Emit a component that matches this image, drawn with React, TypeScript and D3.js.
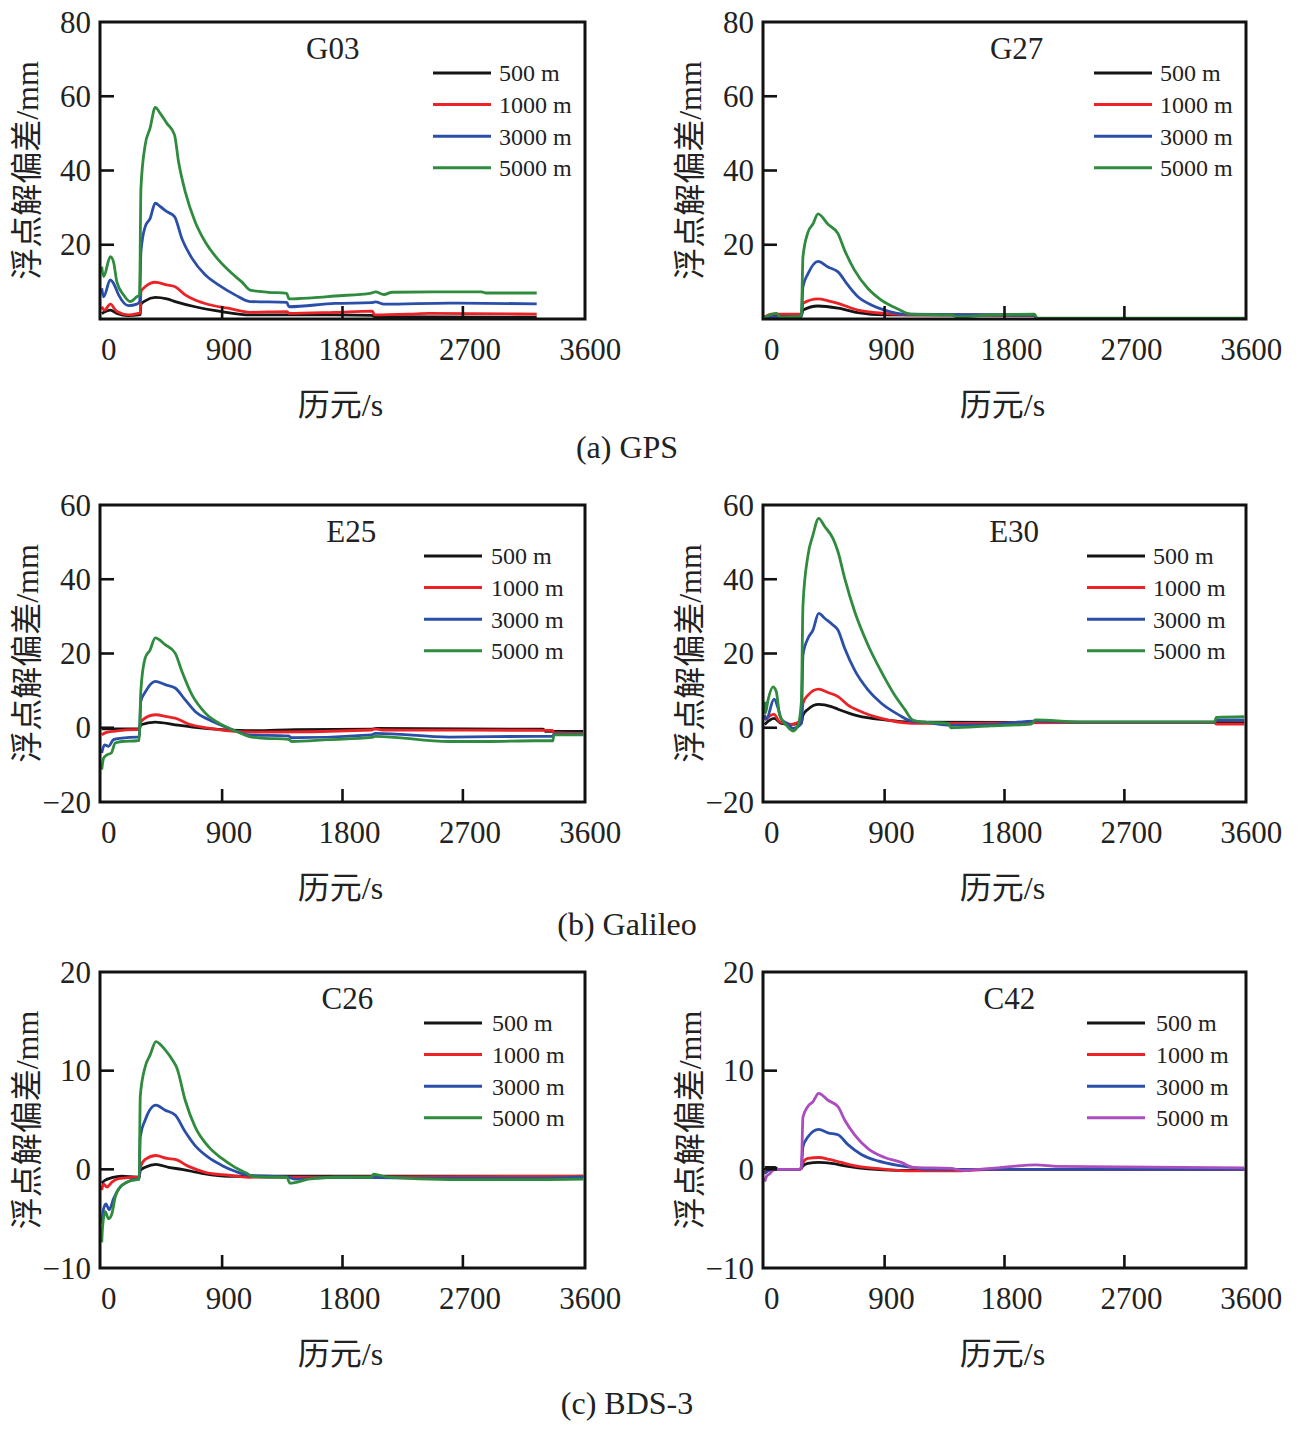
import * as d3 from "d3";

type Pt = [number, number];

const TIME_TICKS = [0, 900, 1800, 2700, 3600];
const RANGE_LABELS = ["500 m", "1000 m", "3000 m", "5000 m"];
const LINE_COLORS = ["#141414", "#ec2227", "#2b4ea8", "#2f8b3d"];
const C42_COLORS = ["#141414", "#ec2227", "#2b4ea8", "#ab4cbf"];

// G03
const g03_500: Pt[] = [[0, 1.5], [65, 2.4], [113, 1.5], [200, 0.9], [275, 1.1], [288, 1.2], [293, 4.0], [325, 4.9], [400, 5.8], [487, 5.4], [549, 4.7], [698, 3.3], [898, 2.0], [1109, 1.1], [1744, 1.1], [2020, 1.0], [2040, 0.6], [3252, 0.5]];
const g03_1000: Pt[] = [[0, 3.3], [20, 2.4], [64, 4.0], [113, 2.0], [200, 1.1], [275, 1.5], [288, 1.6], [293, 7.4], [325, 8.7], [400, 9.9], [487, 9.2], [549, 8.7], [624, 6.5], [698, 5.1], [798, 3.9], [947, 2.9], [1109, 1.8], [1383, 2.0], [1400, 1.5], [1744, 1.8], [2023, 2.1], [2040, 1.1], [2300, 1.3], [2450, 1.5], [3252, 1.3]];
const g03_3000: Pt[] = [[0, 8.3], [14, 6.0], [64, 10.5], [88, 9.6], [126, 6.5], [200, 3.6], [263, 4.0], [283, 4.7], [293, 18.1], [325, 24.9], [362, 27.1], [400, 31.2], [437, 30.3], [487, 28.9], [544, 27.6], [599, 21.7], [674, 16.4], [773, 11.9], [873, 9.2], [997, 6.5], [1109, 4.7], [1383, 4.5], [1400, 3.3], [1744, 4.2], [2015, 4.4], [2047, 4.6], [2110, 4.0], [2600, 4.3], [3252, 4.1]];
const g03_5000: Pt[] = [[0, 14.1], [14, 11.4], [64, 16.8], [88, 15.4], [113, 10], [163, 6.5], [213, 4.7], [263, 6.0], [283, 6.5], [293, 35.2], [325, 46.9], [362, 51.5], [400, 57], [437, 55.4], [487, 52.7], [544, 49.6], [574, 42.4], [624, 34.3], [698, 26.2], [773, 20.8], [873, 15.9], [972, 12.3], [1047, 10], [1109, 7.8], [1246, 7.2], [1383, 6.9], [1400, 5.4], [1570, 5.7], [1744, 6.2], [2015, 7], [2047, 7.3], [2110, 6.6], [2170, 7.2], [2476, 7.3], [2842, 7.3], [2872, 7.0], [3252, 7.0]];

// G27
const g27_500: Pt[] = [[0, 0.7], [262, 0.7], [275, 0.8], [287, 2.4], [400, 3.5], [550, 2.9], [700, 1.7], [900, 1.1], [2025, 1.0], [2040, 0.1], [3600, 0.1]];
const g27_1000: Pt[] = [[0, 0.5], [50, 1.3], [262, 1.3], [275, 1.4], [287, 4.2], [400, 5.4], [475, 4.9], [550, 4.2], [700, 2.4], [900, 1.5], [1100, 1.1], [2025, 1.1], [2040, 0.1], [3600, 0.1]];
const g27_3000: Pt[] = [[0, 0.5], [262, 0.6], [275, 0.7], [287, 8.7], [325, 12.2], [400, 15.5], [475, 14], [550, 12.7], [625, 9.1], [700, 6], [800, 3.8], [900, 2.4], [1050, 1.3], [2025, 1.1], [2040, 0.1], [3600, 0.1]];
const g27_5000: Pt[] = [[0, 0.5], [87, 1.5], [120, 0.5], [262, 0.6], [275, 1.0], [287, 16.7], [325, 23.4], [362, 25.6], [400, 28.3], [475, 25.5], [550, 23], [600, 18.5], [675, 13.1], [775, 8.2], [875, 5.1], [1000, 2.7], [1100, 1.3], [1397, 1.1], [1450, 0.6], [1700, 1.1], [2025, 1.3], [2045, 0.2], [3600, 0.2]];

// E25
const e25_500: Pt[] = [[0, -0.3], [280, -0.3], [292, 0.8], [400, 1.5], [549, 0.8], [698, 0.1], [898, -0.5], [1146, -0.8], [1446, -0.5], [2018, -0.4], [2050, -0.2], [3300, -0.4], [3320, -1.0], [3600, -1.0]];
const e25_1000: Pt[] = [[0, -1.9], [30, -1.3], [101, -0.9], [263, -0.5], [280, -0.5], [292, 1.7], [400, 3.5], [499, 2.9], [549, 2.6], [649, 1.0], [798, -0.1], [997, -1.0], [1146, -1.2], [2018, -0.6], [2040, -0.3], [2100, -0.6], [3370, -0.7], [3380, -1.3], [3600, -1.5]];
const e25_3000: Pt[] = [[0, -6.8], [21, -4.6], [51, -5.0], [88, -3.2], [151, -2.8], [263, -2.5], [280, -2.5], [292, 7.1], [325, 9.6], [400, 12.5], [474, 11.6], [549, 10.7], [624, 7.5], [698, 4.4], [798, 2.2], [898, 0.6], [997, -0.8], [1097, -1.9], [1395, -2.2], [1420, -2.7], [2018, -1.9], [2047, -1.5], [2600, -2.5], [3238, -2.3], [3373, -2.3], [3380, -1.7], [3600, -1.7]];
const e25_5000: Pt[] = [[0, -11.3], [14, -8.2], [39, -7.3], [71, -6.8], [101, -4.1], [151, -3.7], [263, -3.5], [280, -3.4], [292, 9.8], [325, 18.8], [362, 21], [400, 24.2], [474, 22.4], [549, 20.1], [599, 15.2], [674, 8.9], [773, 4.0], [898, 0.8], [997, -0.8], [1097, -2.3], [1196, -2.8], [1395, -3.1], [1420, -3.7], [1694, -3.2], [2018, -2.6], [2047, -2.3], [2596, -3.7], [2902, -3.7], [3238, -3.5], [3373, -3.5], [3380, -1.9], [3600, -1.9]];

// E30
const e30_500: Pt[] = [[0, 0.9], [70, 2.5], [125, 1.2], [200, 0.9], [262, 1.2], [275, 1.3], [287, 3.4], [325, 5], [405, 6.3], [500, 5.7], [550, 5], [700, 3.2], [900, 2.1], [1100, 1.5], [3600, 1.4]];
const e30_1000: Pt[] = [[0, 2.1], [70, 3.6], [112, 1.6], [200, 0.9], [262, 1.6], [275, 1.7], [287, 6.6], [325, 8.8], [405, 10.4], [475, 9.5], [550, 8.4], [625, 6.1], [725, 4.3], [875, 2.5], [1100, 1.2], [1450, 1.2], [2300, 1.4], [3377, 1.4], [3390, 1.0], [3600, 1.0]];
const e30_3000: Pt[] = [[0, 3.4], [12, 2.3], [70, 7.7], [100, 5.3], [125, 2.3], [175, 1.0], [212, -0.2], [262, 0.7], [275, 1.2], [287, 19.6], [325, 24.1], [362, 26.3], [405, 30.8], [450, 29.5], [512, 27.7], [550, 26.3], [600, 21.4], [675, 15.5], [775, 10.2], [875, 6.6], [1000, 3.6], [1100, 1.8], [1200, 1.5], [1400, 0.7], [1700, 0.9], [2031, 1.8], [2368, 1.5], [3377, 1.5], [3390, 2.1], [3600, 2.1]];
const e30_5000: Pt[] = [[0, 7.0], [5, 3.9], [25, 7.5], [62, 11], [87, 9.7], [112, 3.4], [162, 0.7], [212, -0.9], [250, 0.7], [275, 7], [287, 33], [325, 46.5], [362, 51.9], [405, 56.4], [450, 54.2], [512, 51], [550, 47.4], [600, 40.3], [675, 31.3], [775, 22.3], [875, 15.1], [975, 8.8], [1050, 5.0], [1112, 2.1], [1200, 1.5], [1375, 1.2], [1400, 0], [1697, 0.5], [2000, 1.0], [2031, 2.1], [2368, 1.6], [3377, 1.6], [3390, 2.8], [3600, 3.0]];

// C26
const c26_500: Pt[] = [[0, -1.4], [26, -1.1], [76, -0.85], [151, -0.7], [263, -0.8], [280, -0.8], [288, -0.1], [325, 0.2], [405, 0.5], [499, 0.2], [599, 0], [748, -0.4], [947, -0.7], [3600, -0.7]];
const c26_1000: Pt[] = [[0, -2.1], [14, -1.5], [39, -1.8], [76, -1.3], [126, -0.95], [263, -0.8], [280, -0.8], [288, 0.2], [325, 1.0], [405, 1.4], [487, 1.1], [549, 1.0], [649, 0.3], [773, -0.3], [947, -0.6], [1097, -0.8], [3600, -0.7]];
const c26_3000: Pt[] = [[0, -5.5], [14, -4.0], [31, -3.5], [56, -4.1], [88, -3.0], [126, -2.0], [188, -1.3], [263, -1.0], [280, -1.0], [288, 3.3], [325, 5.0], [405, 6.5], [474, 6.0], [549, 5.5], [624, 3.8], [698, 2.4], [798, 1.2], [898, 0.4], [997, -0.2], [1097, -0.6], [1395, -0.8], [1445, -1.0], [1744, -0.8], [2400, -0.9], [3238, -0.9], [3600, -0.8]];
const c26_5000: Pt[] = [[0, -7.4], [6, -5.9], [26, -4.3], [51, -5.0], [76, -4.5], [101, -2.8], [138, -1.8], [188, -1.3], [263, -1.05], [280, -1.0], [288, 7.4], [325, 10.4], [362, 11.6], [405, 12.95], [474, 12.1], [537, 10.9], [561, 10.3], [624, 7.0], [698, 4.3], [798, 2.3], [898, 1.1], [997, 0.2], [1085, -0.4], [1122, -0.7], [1246, -0.8], [1383, -0.8], [1408, -1.4], [1545, -1.0], [1744, -0.8], [2015, -0.8], [2032, -0.5], [2140, -0.8], [2596, -1.05], [3238, -1.05], [3600, -1.0]];

// C42
const c42_500: Pt[] = [[0, 0.2], [75, 0.2], [100, 0], [262, 0], [275, 0.1], [287, 0.35], [325, 0.6], [405, 0.7], [500, 0.6], [625, 0.3], [775, 0.05], [1000, -0.1], [1500, 0], [3600, 0]];
const c42_1000: Pt[] = [[0, -0.15], [5, -0.3], [40, 0], [262, 0], [275, 0.1], [287, 0.7], [325, 1.1], [405, 1.2], [487, 1.0], [575, 0.7], [700, 0.3], [875, 0.05], [1100, -0.15], [1450, -0.15], [1700, 0], [3600, 0]];
const c42_3000: Pt[] = [[0, -0.45], [25, -0.15], [75, 0], [262, 0], [275, 0.2], [287, 2.3], [325, 3.3], [405, 4.05], [475, 3.7], [550, 3.5], [625, 2.5], [725, 1.5], [850, 0.85], [1000, 0.4], [1112, 0.2], [1200, 0], [3600, 0]];
const c42_5000: Pt[] = [[0, -1.25], [12, -0.75], [37, -0.45], [62, -0.1], [100, 0], [262, 0], [275, 0.3], [287, 5.3], [325, 6.4], [362, 6.85], [405, 7.7], [475, 7.0], [550, 6.35], [600, 5.0], [675, 3.5], [775, 2.1], [900, 1.2], [1025, 0.7], [1112, 0.2], [1400, 0.1], [1475, -0.1], [1700, 0.1], [2037, 0.45], [2200, 0.3], [3600, 0.15]];

const GPS_Y_LABELS = [20, 40, 60, 80];
const GPS_Y_MARKS = [20, 40, 60];
const GAL_Y_LABELS = [-20, 0, 20, 40, 60];
const GAL_Y_MARKS = [0, 20, 40];
const BDS_Y_LABELS = [-10, 0, 10, 20];
const BDS_Y_MARKS = [0, 10];

const CAPTIONS = ["(a) GPS", "(b) Galileo", "(c) BDS-3"];

const ROW_TOP = [22, 505, 972];
const ROW_BOTTOM = [319, 802, 1268];
const COL_LEFT = [100, 763];
const COL_RIGHT = [585, 1246];
const CAPTION_Y = [447, 924, 1403];

const SERIF = "'Liberation Serif', 'Times New Roman', 'Noto Sans CJK SC', serif";

type PanelDef = {
  id: string;
  row: number;
  col: number;
  series: Pt[][];
  colors: string[];
  yDomain: [number, number];
  yLabels: number[];
  yMarks: number[];
  titleFrac: number;
  legendDx: number;
  legendGap: number;
};

const panels: PanelDef[] = [
  { id: "G03", row: 0, col: 0, series: [g03_500, g03_1000, g03_3000, g03_5000], colors: LINE_COLORS, yDomain: [0, 80], yLabels: GPS_Y_LABELS, yMarks: GPS_Y_MARKS, titleFrac: 0.48, legendDx: 152, legendGap: 8 },
  { id: "G27", row: 0, col: 1, series: [g27_500, g27_1000, g27_3000, g27_5000], colors: LINE_COLORS, yDomain: [0, 80], yLabels: GPS_Y_LABELS, yMarks: GPS_Y_MARKS, titleFrac: 0.525, legendDx: 152, legendGap: 8 },
  { id: "E25", row: 1, col: 0, series: [e25_500, e25_1000, e25_3000, e25_5000], colors: LINE_COLORS, yDomain: [-20, 60], yLabels: GAL_Y_LABELS, yMarks: GAL_Y_MARKS, titleFrac: 0.518, legendDx: 161, legendGap: 9 },
  { id: "E30", row: 1, col: 1, series: [e30_500, e30_1000, e30_3000, e30_5000], colors: LINE_COLORS, yDomain: [-20, 60], yLabels: GAL_Y_LABELS, yMarks: GAL_Y_MARKS, titleFrac: 0.52, legendDx: 159, legendGap: 8 },
  { id: "C26", row: 2, col: 0, series: [c26_500, c26_1000, c26_3000, c26_5000], colors: LINE_COLORS, yDomain: [-10, 20], yLabels: BDS_Y_LABELS, yMarks: BDS_Y_MARKS, titleFrac: 0.51, legendDx: 161, legendGap: 10 },
  { id: "C42", row: 2, col: 1, series: [c42_500, c42_1000, c42_3000, c42_5000], colors: C42_COLORS, yDomain: [-10, 20], yLabels: BDS_Y_LABELS, yMarks: BDS_Y_MARKS, titleFrac: 0.51, legendDx: 159, legendGap: 11 },
];

function fmt(v: number) {
  return v < 0 ? `\u2212${Math.abs(v)}` : `${v}`;
}

function Panel({ p }: { p: PanelDef }) {
  const left = COL_LEFT[p.col];
  const right = COL_RIGHT[p.col];
  const top = ROW_TOP[p.row];
  const bottom = ROW_BOTTOM[p.row];
  const x = d3.scaleLinear().domain([-13, 3613]).range([left, right]);
  const y = d3.scaleLinear().domain(p.yDomain).range([bottom, top]);
  const line = d3
    .line<Pt>()
    .x((d) => x(d[0]))
    .y((d) => y(d[1]))
    .curve(d3.curveMonotoneX);
  const clipId = `clip-${p.id}`;
  const midY = (top + bottom) / 2;

  return (
    <g>
      <defs>
        <clipPath id={clipId}>
          <rect x={left} y={top} width={right - left} height={bottom - top} />
        </clipPath>
      </defs>
      <g clipPath={`url(#${clipId})`}>
        {p.series.map((s, i) => (
          <path
            key={i}
            d={line(s) ?? ""}
            fill="none"
            stroke={p.colors[i]}
            strokeWidth={2.8}
            strokeLinejoin="round"
          />
        ))}
      </g>
      {p.yMarks.map((v) => (
        <line key={`ym${v}`} x1={left} x2={left + 14} y1={y(v)} y2={y(v)} stroke="#111" strokeWidth={2.6} />
      ))}
      {TIME_TICKS.slice(1, -1).map((t) => (
        <line key={`xm${t}`} x1={x(t)} x2={x(t)} y1={bottom} y2={bottom - 13} stroke="#111" strokeWidth={2.6} />
      ))}
      <rect x={left} y={top} width={right - left} height={bottom - top} fill="none" stroke="#111" strokeWidth={3} />
      {p.yLabels.map((v) => (
        <text
          key={`yl${v}`}
          x={left - 9}
          y={y(v)}
          dy="0.34em"
          textAnchor="end"
          fontFamily={SERIF}
          fontSize={31}
          fill="#222"
        >
          {fmt(v)}
        </text>
      ))}
      {TIME_TICKS.map((t) => (
        <text
          key={`xl${t}`}
          x={x(t) + 7}
          y={bottom + 41}
          textAnchor="middle"
          fontFamily={SERIF}
          fontSize={31}
          fill="#222"
        >
          {t}
        </text>
      ))}
      <text
        x={(left + right) / 2 - 2}
        y={bottom + 86}
        dy="0.35em"
        textAnchor="middle"
        fontFamily={SERIF}
        fontSize={32}
        fill="#222"
      >
        历元/s
      </text>
      <text
        transform={`translate(${left - 73},${midY}) rotate(-90)`}
        dy="0.35em"
        textAnchor="middle"
        fontFamily={SERIF}
        fontSize={32}
        fill="#222"
      >
        浮点解偏差/mm
      </text>
      <text
        x={left + (right - left) * p.titleFrac}
        y={top + 26}
        dy="0.35em"
        textAnchor="middle"
        fontFamily={SERIF}
        fontSize={31}
        fill="#222"
      >
        {p.id}
      </text>
      {RANGE_LABELS.map((lab, i) => {
        const ly = top + 51 + i * 31.6;
        const lx = right - p.legendDx;
        return (
          <g key={lab}>
            <line x1={lx} x2={lx + 58} y1={ly} y2={ly} stroke={p.colors[i]} strokeWidth={3} />
            <text
              x={lx + 58 + p.legendGap}
              y={ly}
              dy="0.35em"
              fontFamily={SERIF}
              fontSize={24}
              fill="#222"
            >
              {lab}
            </text>
          </g>
        );
      })}
    </g>
  );
}

export default function App() {
  return (
    <svg
      width={1302}
      height={1430}
      viewBox="0 0 1302 1430"
      style={{ position: "absolute", left: 0, top: 0, background: "#fff" }}
    >
      <rect width={1302} height={1430} fill="#fff" />
      {panels.map((p) => (
        <Panel key={p.id} p={p} />
      ))}
      {CAPTIONS.map((c, i) => (
        <text
          key={c}
          x={627}
          y={CAPTION_Y[i]}
          dy="0.35em"
          textAnchor="middle"
          fontFamily={SERIF}
          fontSize={32}
          fill="#222"
        >
          {c}
        </text>
      ))}
    </svg>
  );
}
